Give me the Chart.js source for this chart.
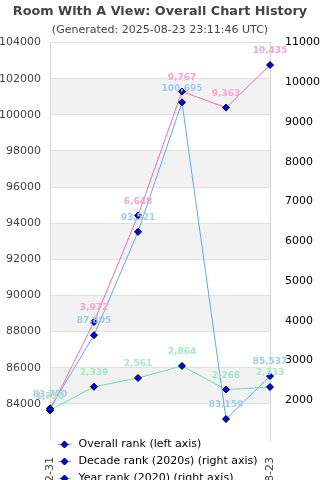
<!DOCTYPE html>
<html>
<head>
<meta charset="utf-8">
<title>Room With A View: Overall Chart History</title>
<script src="https://cdn.jsdelivr.net/npm/chart.js"></script>
<style>
  html, body {
    margin: 0;
    padding: 0;
    background: #fff;
    overflow: hidden;
  }
  #wrap {
    position: relative;
    width: 320px;
    height: 551px;
  }
</style>
</head>
<body>
<div id="wrap">
  <canvas id="historyChart"></canvas>
</div>
<script>
// Chart data
const dates = ['2020-12-31', '2021-12-31', '2022-12-31', '2023-12-31', '2024-12-31', '2025-08-23'];
const overallRank = [83750, 87805, 93521, 100695, 83159, 85537];
const decadeRank = [1750, 3972, 6648, 9767, 9363, 10435];
const yearRank = [1750, 2339, 2561, 2864, 2268, 2333];

const leftTicks = { min: 82000, max: 104000, step: 2000 };
const rightTicks = { min: 1000, max: 11000, step: 1000 };

const FONT = "'DejaVu Sans', sans-serif";
Chart.defaults.font.family = FONT;

// little legend icon: coloured line with the diamond marker on it
function legendIcon(lineColor) {
  const c = document.createElement('canvas');
  c.width = 13;
  c.height = 9;
  const g = c.getContext('2d');
  g.strokeStyle = lineColor;
  g.lineWidth = 1;
  g.beginPath();
  g.moveTo(0, 4.5);
  g.lineTo(13, 4.5);
  g.stroke();
  g.fillStyle = '#0000ff';
  g.strokeStyle = '#000';
  g.beginPath();
  g.moveTo(6.5, 1);
  g.lineTo(10, 4.5);
  g.lineTo(6.5, 8);
  g.lineTo(3, 4.5);
  g.closePath();
  g.fill();
  g.stroke();
  return c;
}

// alternating grey bands on the left axis (84000-86000, 88000-90000, ...)
const bandPlugin = {
  id: 'bands',
  beforeDraw(chart) {
    const y = chart.scales.y;
    const area = chart.chartArea;
    const ctx = chart.ctx;
    ctx.save();
    ctx.fillStyle = '#f2f2f2';
    for (let v = leftTicks.min + leftTicks.step; v < leftTicks.max; v += 2 * leftTicks.step) {
      const top = y.getPixelForValue(v + leftTicks.step);
      const bottom = y.getPixelForValue(v);
      ctx.fillRect(area.left, top, area.right - area.left, bottom - top);
    }
    ctx.restore();
  }
};

// value labels above every point
const valueLabelPlugin = {
  id: 'valueLabels',
  afterDatasetsDraw(chart) {
    const ctx = chart.ctx;
    ctx.save();
    ctx.font = 'bold 9px ' + FONT;
    ctx.textAlign = 'center';
    ctx.textBaseline = 'middle';
    chart.data.datasets.forEach((ds, i) => {
      const meta = chart.getDatasetMeta(i);
      ctx.fillStyle = ds.labelColor;
      meta.data.forEach((pt, j) => {
        ctx.fillText(ds.data[j].toLocaleString('en-US'), pt.x, pt.y - 14);
      });
    });
    ctx.restore();
  }
};

// legend sits over the rotated date labels, just under the plot
const legendShift = {
  id: 'legendShift',
  afterLayout(chart) {
    const lg = chart.legend;
    const h = lg.height;
    lg.top = chart.chartArea.bottom - 7;
    lg.bottom = lg.top + h;
  }
};

const lineColors = ['#62a8f0', '#f06eaa', '#6fe0a2'];
const labelColors = ['#a3c9f3', '#f5a6c9', '#a6e9c4'];

const pointStyleOpts = {
  pointStyle: 'rectRot',
  pointRadius: 3.5,
  pointHoverRadius: 3.5,
  pointBackgroundColor: '#0000ff',
  pointBorderColor: '#000',
  pointBorderWidth: 1,
  borderWidth: 1,
  fill: false,
  tension: 0
};

const ctx = document.getElementById('historyChart').getContext('2d');
new Chart(ctx, {
  type: 'line',
  data: {
    labels: dates,
    datasets: [
      Object.assign({
        label: 'Overall rank (left axis)',
        data: overallRank,
        borderColor: lineColors[0],
        backgroundColor: '#0000ff',
        labelColor: labelColors[0],
        yAxisID: 'y'
      }, pointStyleOpts),
      Object.assign({
        label: 'Decade rank (2020s) (right axis)',
        data: decadeRank,
        borderColor: lineColors[1],
        backgroundColor: '#0000ff',
        labelColor: labelColors[1],
        yAxisID: 'y1'
      }, pointStyleOpts),
      Object.assign({
        label: 'Year rank (2020) (right axis)',
        data: yearRank,
        borderColor: lineColors[2],
        backgroundColor: '#0000ff',
        labelColor: labelColors[2],
        yAxisID: 'y1'
      }, pointStyleOpts)
    ]
  },
  options: {
    responsive: true,
    maintainAspectRatio: false,
    animation: false,
    layout: { padding: 0 },
    scales: {
      x: {
        offset: false,
        grid: { display: false },
        border: { display: false },
        ticks: {
          autoSkip: false,
          minRotation: 90,
          maxRotation: 90,
          padding: 9,
          color: '#444',
          font: { size: 11 },
          callback: function (value, index) {
            // only the first and last dates peek out beside the legend
            return (index === 0 || index === dates.length - 1) ? dates[index] : '';
          }
        },
        afterFit: function (scale) {
          scale.height = 50;
        }
      },
      y: {
        type: 'linear',
        position: 'left',
        min: leftTicks.min,
        max: leftTicks.max,
        grid: { color: '#e0e0e0', drawTicks: false },
        border: { display: true, color: '#d6d6d6' },
        ticks: {
          stepSize: leftTicks.step,
          padding: 9,
          color: '#444',
          font: { size: 11 },
          callback: function (value) {
            return value === leftTicks.min ? null : String(value);
          }
        },
        afterFit: function (scale) {
          scale.width = 50;
        }
      },
      y1: {
        type: 'linear',
        position: 'right',
        min: rightTicks.min,
        max: rightTicks.max,
        grid: { display: false, drawTicks: false },
        border: { display: true, color: '#d6d6d6' },
        ticks: {
          stepSize: rightTicks.step,
          padding: 15,
          color: '#000',
          font: { size: 11 },
          callback: function (value) {
            return value === rightTicks.min ? null : String(value);
          }
        },
        afterFit: function (scale) {
          scale.width = 50;
        }
      }
    },
    plugins: {
      title: {
        display: true,
        text: 'Room With A View: Overall Chart History',
        color: '#444',
        font: { size: 12.8, weight: 'bold' },
        padding: { top: 4, bottom: 2 }
      },
      subtitle: {
        display: true,
        text: '(Generated: 2025-08-23 23:11:46 UTC)',
        color: '#444',
        font: { size: 11 },
        padding: { top: 2, bottom: 6 }
      },
      legend: {
        position: 'bottom',
        align: 'start',
        fullSize: false,
        labels: {
          usePointStyle: true,
          pointStyleWidth: 17,
          padding: 6,
          color: '#000',
          font: { size: 11 },
          generateLabels: function (chart) {
            const items = Chart.defaults.plugins.legend.labels.generateLabels(chart);
            items.forEach((item, i) => {
              item.pointStyle = legendIcon(lineColors[i]);
            });
            return items;
          }
        }
      },
      tooltip: { enabled: false }
    }
  },
  plugins: [bandPlugin, valueLabelPlugin, legendShift]
});
</script>
</body>
</html>
